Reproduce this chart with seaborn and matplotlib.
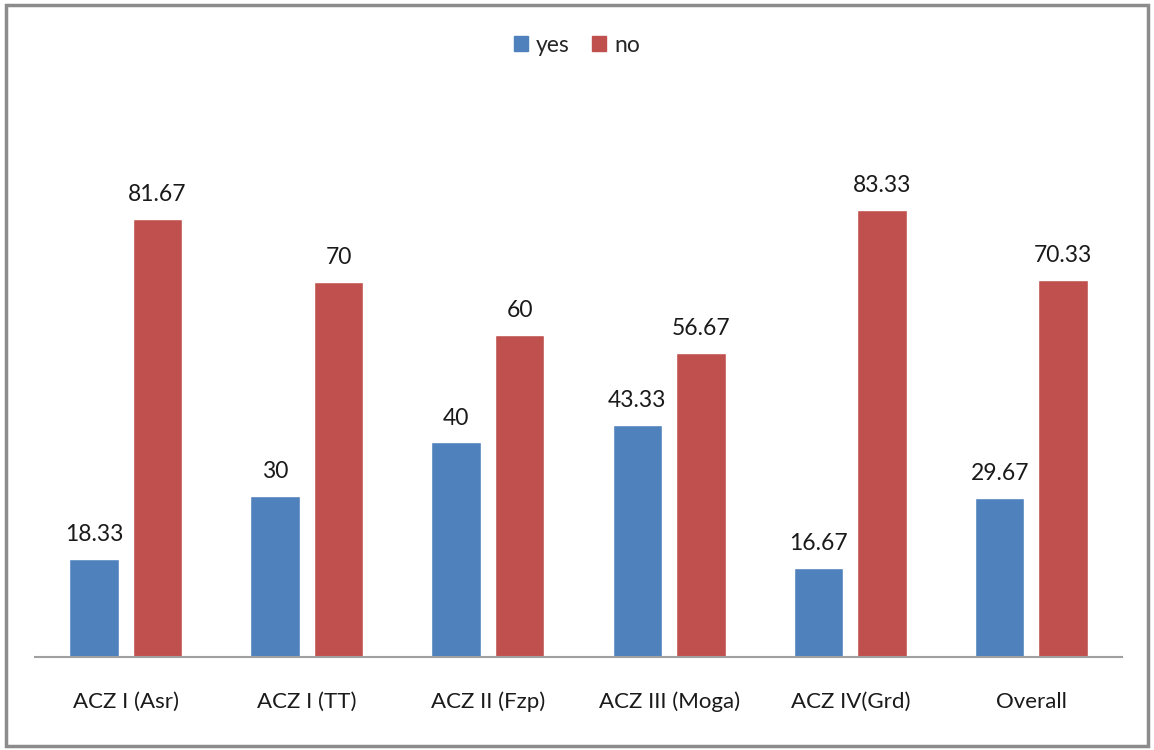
import pandas as pd
import numpy as np
import matplotlib.pyplot as plt
import seaborn as sns
from matplotlib.patches import Rectangle, Patch

sns.set_style("white")
plt.rcParams['font.family'] = ['Lato', 'DejaVu Sans']

categories = ['ACZ I (Asr)', 'ACZ I (TT)', 'ACZ II (Fzp)', 'ACZ III (Moga)', 'ACZ IV(Grd)', 'Overall']
yes_vals = [18.33, 30, 40, 43.33, 16.67, 29.67]
no_vals = [81.67, 70, 60, 56.67, 83.33, 70.33]
yes_labels = ['18.33', '30', '40', '43.33', '16.67', '29.67']
no_labels = ['81.67', '70', '60', '56.67', '83.33', '70.33']

palette = {'yes': '#4F81BD', 'no': '#C0504D'}

df = pd.DataFrame({
    'zone': categories * 2,
    'answer': ['yes'] * len(categories) + ['no'] * len(categories),
    'value': yes_vals + no_vals,
    'label': yes_labels + no_labels,
})

fig = plt.figure(figsize=(11.54, 7.5), dpi=100)
ax = fig.add_axes([0.0303, 0.124, 0.942, 0.6437])

sns.barplot(data=df, x='zone', y='value', hue='answer', palette=palette,
            width=0.7, gap=0.22, ax=ax, legend=False, saturation=1)

for container, labels in zip(ax.containers, [yes_labels, no_labels]):
    ax.bar_label(container, labels=labels, padding=10, fontsize=16.5, color='#1a1a1a')

ax.set_xlim(-0.5, 5.5)
ax.set_ylim(0, 90)
ax.set_xlabel('')
ax.set_ylabel('')
ax.set_yticks([])
for side in ['top', 'right', 'left']:
    ax.spines[side].set_visible(False)
ax.spines['bottom'].set_color('#a0a0a0')
ax.spines['bottom'].set_linewidth(1.5)
ax.tick_params(axis='x', length=0, pad=25, labelsize=16, colors='#1a1a1a')

handles = [Patch(color=palette['yes'], label='yes'), Patch(color=palette['no'], label='no')]
fig.legend(handles=handles, loc='center', bbox_to_anchor=(0.5, 0.94), ncol=2, frameon=False,
           fontsize=16.5, handlelength=0.6, handleheight=0.6, handletextpad=0.35, columnspacing=1.0)

fig.patches.append(Rectangle((6 / 1154, 4 / 750), 1142 / 1154, 741 / 750, transform=fig.transFigure,
                             fill=False, edgecolor='#8c8c8c', linewidth=2.5))

fig.savefig('out.png', dpi=100)
